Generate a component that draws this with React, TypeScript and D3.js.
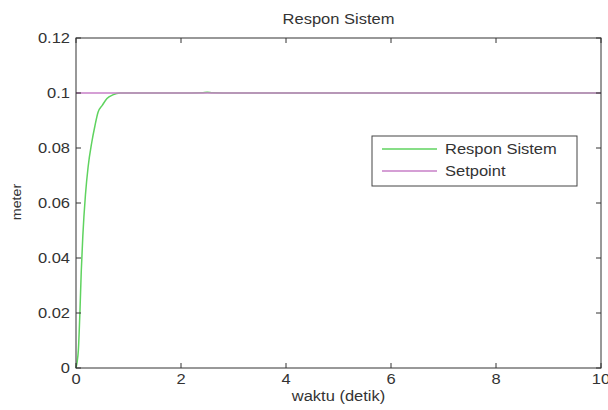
import React from 'react';
import * as d3 from 'd3';

const title = 'Respon Sistem';
const xLabel = 'waktu (detik)';
const yLabel = 'meter';
const xTicks = [0, 2, 4, 6, 8, 10];
const yTicks = [0, 0.02, 0.04, 0.06, 0.08, 0.1, 0.12];
const yTickLabels = ['0', '0.02', '0.04', '0.06', '0.08', '0.1', '0.12'];

// respon sistem
const time = [0, 0.02, 0.045, 0.076, 0.1, 0.13, 0.18, 0.23, 0.3, 0.36, 0.42, 0.5, 0.59, 0.7, 0.84, 1.2, 2.0, 2.4, 2.5, 2.6, 3.0, 5.0, 10];
const response = [0, 0.002, 0.0065, 0.021, 0.035, 0.048, 0.063, 0.073, 0.082, 0.088, 0.093, 0.0955, 0.098, 0.0993, 0.1, 0.1, 0.1, 0.1001, 0.1003, 0.1001, 0.1, 0.1, 0.1];
const setpointTime = [0, 10];
const setpoint = [0.1, 0.1];

const legendItems = [
  { label: 'Respon Sistem', color: '#5fd35f' },
  { label: 'Setpoint', color: '#c77fc7' },
];

const W = 608;
const H = 410;
const left = 76;
const right = 601;
const top = 38;
const bottom = 368;

// text slightly stretched wide, like the source picture
const T = ({ x, y, anchor = 'start', size = 15, rotate = 0, children }: any) => (
  <text
    transform={`translate(${x},${y}) rotate(${rotate}) scale(1.1,1)`}
    textAnchor={anchor}
    fontSize={size}
    fill="#333"
  >
    {children}
  </text>
);

const App = () => {
  const x = d3.scaleLinear().domain([0, 10]).range([left, right]);
  const y = d3.scaleLinear().domain([0, 0.12]).range([bottom, top]);

  const line = d3
    .line<[number, number]>()
    .x(d => x(d[0]))
    .y(d => y(d[1]))
    .curve(d3.curveMonotoneX);

  const respPts = time.map((t, i) => [t, response[i]] as [number, number]);
  const spPts = setpointTime.map((t, i) => [t, setpoint[i]] as [number, number]);

  const font = 'Arial, "Liberation Sans", sans-serif';
  const tick = 5;

  return (
    <svg width={W} height={H} style={{ position: 'absolute', left: 0, top: 0 }} fontFamily={font}>
      <rect x={0} y={0} width={W} height={H} fill="#fff" />
      <T x={(left + right) / 2} y={24} anchor="middle">
        {title}
      </T>
      <path d={line(respPts) || ''} fill="none" stroke={legendItems[0].color} strokeWidth={1.5} />
      <path d={line(spPts) || ''} fill="none" stroke={legendItems[1].color} strokeWidth={1.5} />
      <rect x={left} y={top} width={right - left} height={bottom - top} fill="none" stroke="#333" strokeWidth={1} />
      {xTicks.map(t => (
        <g key={'x' + t}>
          <line x1={x(t)} x2={x(t)} y1={bottom} y2={bottom - tick} stroke="#333" />
          <line x1={x(t)} x2={x(t)} y1={top} y2={top + tick} stroke="#333" />
          <T x={x(t)} y={bottom + 16} anchor="middle">
            {t}
          </T>
        </g>
      ))}
      {yTicks.map((v, i) => (
        <g key={'y' + v}>
          <line x1={left} x2={left + tick} y1={y(v)} y2={y(v)} stroke="#333" />
          <line x1={right} x2={right - tick} y1={y(v)} y2={y(v)} stroke="#333" />
          <T x={left - 6} y={y(v) + 5} anchor="end">
            {yTickLabels[i]}
          </T>
        </g>
      ))}
      <T x={(left + right) / 2} y={401} anchor="middle">
        {xLabel}
      </T>
      <T x={21} y={202} anchor="middle" size={13} rotate={-90}>
        {yLabel}
      </T>
      <g transform="translate(372, 136)">
        <rect x={0} y={0} width={205} height={50} fill="#fff" stroke="#444" />
        {legendItems.map((d, i) => (
          <g key={d.label} transform={`translate(0, ${13 + i * 22})`}>
            <line x1={10} x2={65} y1={0} y2={0} stroke={d.color} strokeWidth={1.5} />
            <T x={73} y={5}>
              {d.label}
            </T>
          </g>
        ))}
      </g>
    </svg>
  );
};

export default App;
